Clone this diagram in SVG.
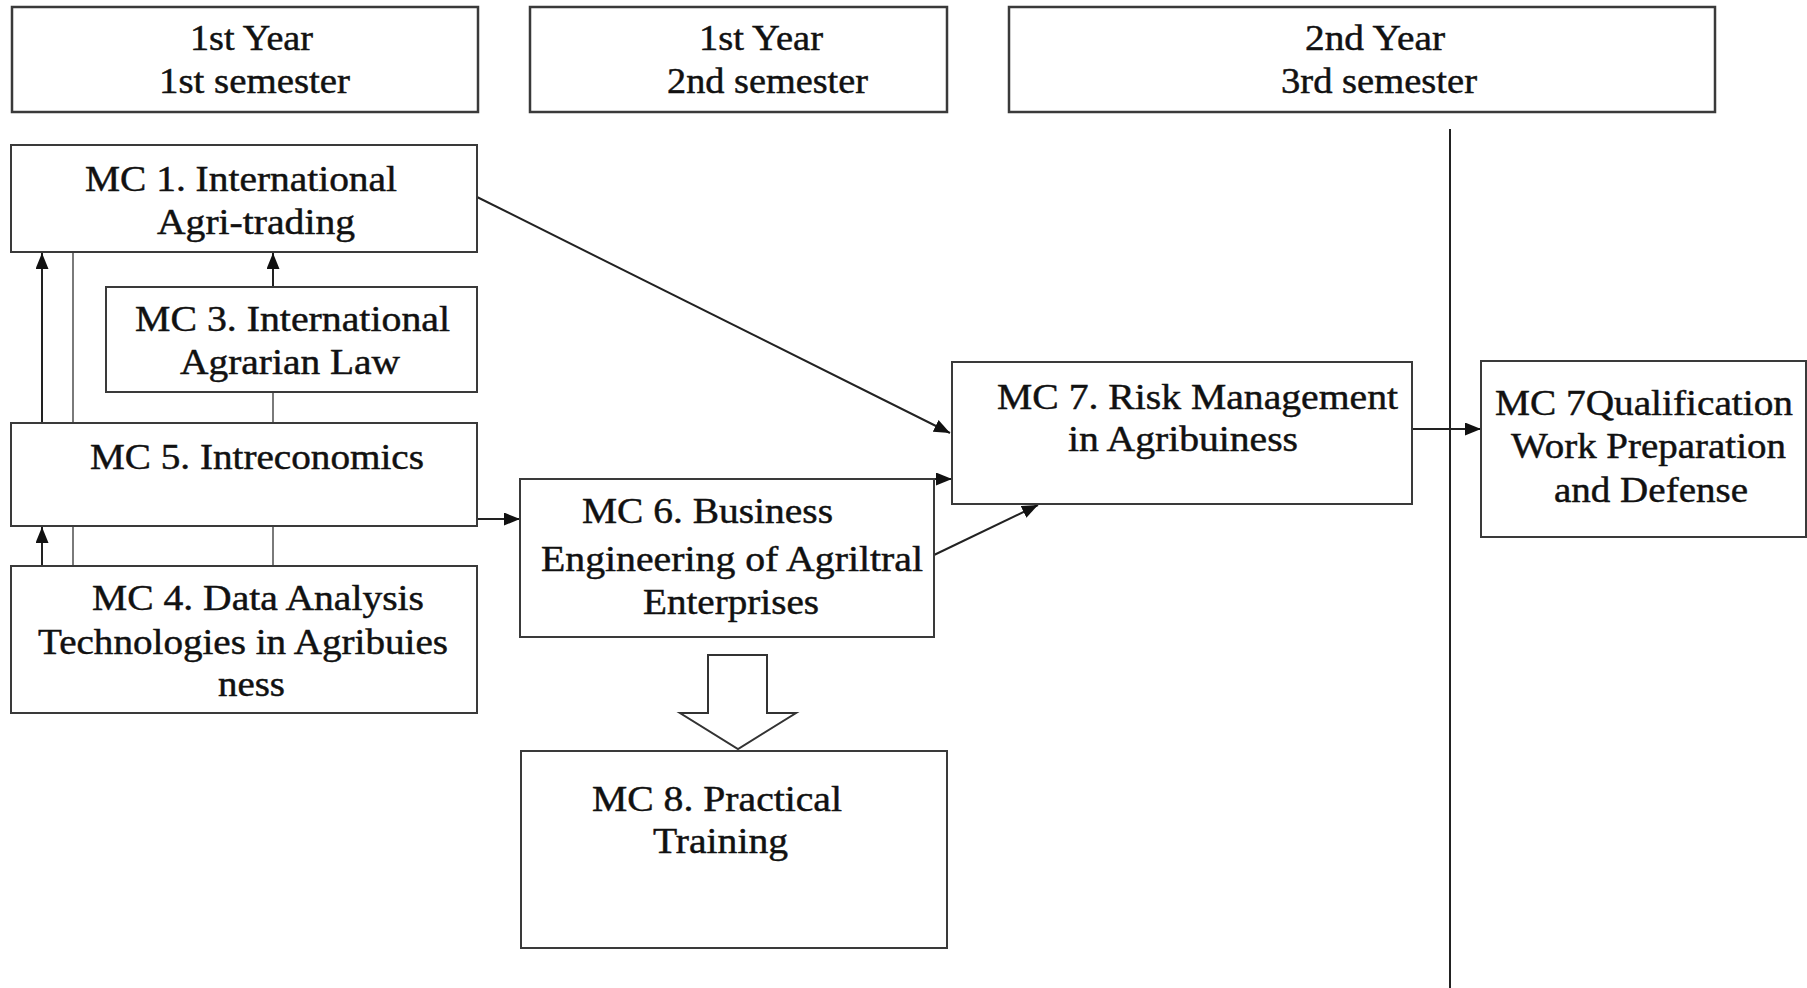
<svg xmlns="http://www.w3.org/2000/svg" width="1807" height="988" viewBox="0 0 1807 988">
<style>
  .box { fill: #ffffff; stroke: #3a3a3a; stroke-width: 2; }
  .hdr { fill: #ffffff; stroke: #3a3a3a; stroke-width: 2.5; }
  .t { font-family: "Liberation Serif", "Times New Roman", serif; font-size: 35px; fill: #111; stroke: #111; stroke-width: 0.45; }
  .conn { stroke: #222; stroke-width: 2; fill: none; }
  .thin { stroke: #7a7a7a; stroke-width: 2; fill: none; }
  .hollow { fill: #ffffff; stroke: #333; stroke-width: 2; }
</style>
<defs>
  <marker id="ah" markerUnits="userSpaceOnUse" markerWidth="17" markerHeight="13" refX="16" refY="6.5" orient="auto">
    <path d="M0,0 L16,6.5 L0,13 z" fill="#111"/>
  </marker>
</defs>
<rect width="1807" height="988" fill="#ffffff"/>

<g id="header1">
  <rect class="hdr" x="12" y="7" width="466" height="105"/>
  <text class="t" x="190" y="50" textLength="123" lengthAdjust="spacingAndGlyphs">1st Year</text>
  <text class="t" x="159" y="93" textLength="191" lengthAdjust="spacingAndGlyphs">1st semester</text>
</g>
<g id="header2">
  <rect class="hdr" x="530" y="7" width="417" height="105"/>
  <text class="t" x="699" y="50" textLength="124" lengthAdjust="spacingAndGlyphs">1st Year</text>
  <text class="t" x="667" y="93" textLength="201" lengthAdjust="spacingAndGlyphs">2nd semester</text>
</g>
<g id="header3">
  <rect class="hdr" x="1009" y="7" width="706" height="105"/>
  <text class="t" x="1305" y="50" textLength="140" lengthAdjust="spacingAndGlyphs">2nd Year</text>
  <text class="t" x="1281" y="93" textLength="196" lengthAdjust="spacingAndGlyphs">3rd semester</text>
</g>

<g id="connectors">
  <line class="conn" x1="42" y1="423" x2="42" y2="253" marker-end="url(#ah)"/>
  <line class="thin" x1="73" y1="253" x2="73" y2="423"/>
  <line class="conn" x1="273" y1="287" x2="273" y2="253" marker-end="url(#ah)"/>
  <line class="thin" x1="273" y1="392" x2="273" y2="423"/>
  <line class="conn" x1="42" y1="566" x2="42" y2="527" marker-end="url(#ah)"/>
  <line class="thin" x1="73" y1="527" x2="73" y2="566"/>
  <line class="thin" x1="273" y1="527" x2="273" y2="566"/>
  <line class="conn" x1="477" y1="197" x2="950" y2="433" marker-end="url(#ah)"/>
  <line class="conn" x1="477" y1="519" x2="520" y2="519" marker-end="url(#ah)"/>
  <line class="conn" x1="934" y1="479" x2="952" y2="479" marker-end="url(#ah)"/>
  <line class="conn" x1="934" y1="555" x2="1038" y2="505" marker-end="url(#ah)"/>
  <line class="conn" x1="1412" y1="429" x2="1481" y2="429" marker-end="url(#ah)"/>
  <line class="conn" x1="1450" y1="129" x2="1450" y2="988"/>
  <polygon class="hollow" points="708,655 767,655 767,713 796,713 738,749 680,713 708,713"/>
</g>

<g id="mc1">
  <rect class="box" x="11" y="145" width="466" height="107"/>
  <text class="t" x="85" y="191" textLength="312" lengthAdjust="spacingAndGlyphs">MC 1. International</text>
  <text class="t" x="157" y="234" textLength="198" lengthAdjust="spacingAndGlyphs">Agri-trading</text>
</g>
<g id="mc3">
  <rect class="box" x="106" y="287" width="371" height="105"/>
  <text class="t" x="135" y="331" textLength="315" lengthAdjust="spacingAndGlyphs">MC 3. International</text>
  <text class="t" x="180" y="374" textLength="220" lengthAdjust="spacingAndGlyphs">Agrarian Law</text>
</g>
<g id="mc5">
  <rect class="box" x="11" y="423" width="466" height="103"/>
  <text class="t" x="90" y="469" textLength="334" lengthAdjust="spacingAndGlyphs">MC 5. Intreconomics</text>
</g>
<g id="mc4">
  <rect class="box" x="11" y="566" width="466" height="147"/>
  <text class="t" x="92" y="610" textLength="332" lengthAdjust="spacingAndGlyphs">MC 4. Data Analysis</text>
  <text class="t" x="38" y="654" textLength="410" lengthAdjust="spacingAndGlyphs">Technologies in Agribuies</text>
  <text class="t" x="218" y="696" textLength="67" lengthAdjust="spacingAndGlyphs">ness</text>
</g>
<g id="mc6">
  <rect class="box" x="520" y="479" width="414" height="158"/>
  <text class="t" x="582" y="523" textLength="251" lengthAdjust="spacingAndGlyphs">MC 6. Business</text>
  <text class="t" x="541" y="571" textLength="382" lengthAdjust="spacingAndGlyphs">Engineering of Agriltral</text>
  <text class="t" x="643" y="614" textLength="176" lengthAdjust="spacingAndGlyphs">Enterprises</text>
</g>
<g id="mc7">
  <rect class="box" x="952" y="362" width="460" height="142"/>
  <text class="t" x="997" y="409" textLength="401" lengthAdjust="spacingAndGlyphs">MC 7. Risk Management</text>
  <text class="t" x="1068" y="451" textLength="230" lengthAdjust="spacingAndGlyphs">in Agribuiness</text>
</g>
<g id="mc7q">
  <rect class="box" x="1481" y="361" width="325" height="176"/>
  <text class="t" x="1495" y="415" textLength="298" lengthAdjust="spacingAndGlyphs">MC 7Qualification</text>
  <text class="t" x="1511" y="458" textLength="275" lengthAdjust="spacingAndGlyphs">Work Preparation</text>
  <text class="t" x="1554" y="502" textLength="194" lengthAdjust="spacingAndGlyphs">and Defense</text>
</g>
<g id="mc8">
  <rect class="box" x="521" y="751" width="426" height="197"/>
  <text class="t" x="592" y="811" textLength="250" lengthAdjust="spacingAndGlyphs">MC 8. Practical</text>
  <text class="t" x="653" y="853" textLength="135" lengthAdjust="spacingAndGlyphs">Training</text>
</g>
</svg>
